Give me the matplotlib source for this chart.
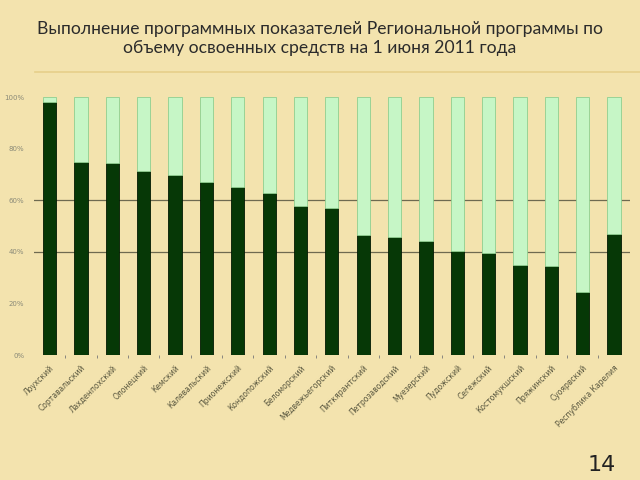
import numpy as np
import matplotlib.pyplot as plt

# Districts and share of funds used (dark part), percent
districts = ['Лоухский', 'Сортавальский', 'Лахденпохский', 'Олонецкий', 'Кемский',
             'Калевальский', 'Прионежский', 'Кондопожский', 'Беломорский',
             'Медвежьегорский', 'Питкярантский', 'Петрозаводский', 'Муезерский',
             'Пудожский', 'Сегежский', 'Костомукшский', 'Пряжинский', 'Суоярвский',
             'Республика Карелия']
done = [98, 74.8, 74.4, 71.3, 69.8, 67, 65, 62.8, 57.8, 57, 46.5, 45.7, 44.2,
        40.3, 39.5, 34.9, 34.5, 24.4, 46.9]
rest = [100 - v for v in done]
yticks = [0, 20, 40, 60, 80, 100]

bg = '#f3e3ae'
fig = plt.figure(figsize=(6.4, 4.8), dpi=100, facecolor=bg)

# title
fig.text(0.5, 0.940, 'Выполнение программных показателей Региональной программы по',
         ha='center', va='center', fontsize=12.6, family='Lato', color='#2b2b2b')
fig.text(0.5, 0.899, 'объему освоенных средств на 1 июня 2011 года',
         ha='center', va='center', fontsize=12.6, family='Lato', color='#2b2b2b')
fig.add_artist(plt.Line2D([0.055, 1.0], [0.85, 0.85], color='#e6cf8a', lw=1.2))
fig.text(0.94, 0.01, '14', ha='center', va='bottom', fontsize=16, color='#222222')

ax = fig.add_axes([0.053, 0.2604, 0.931, 0.5375])
ax.set_facecolor('none')
x = np.arange(len(districts))
ax.bar(x, done, width=0.42, color='#063806', edgecolor='#021a02', lw=0.6, zorder=3)
ax.bar(x, rest, bottom=done, width=0.42, color='#c6f6c6', edgecolor='#8fcf8f', lw=0.6, zorder=3)

for v in [40, 60]:
    ax.axhline(v, color='#6e6a50', lw=0.9, zorder=1, xmin=-0.005)

ax.set_xlim(-0.5, len(districts) - 0.5)
ax.set_ylim(0, 100)
ax.set_yticks(yticks)
ax.set_yticklabels([f'{v}%' for v in yticks], fontsize=5, color='#8a8a78')
ax.tick_params(axis='y', length=0, pad=7)
ax.set_xticks(x)
ax.set_xticklabels(districts, rotation=45, ha='right', rotation_mode='anchor',
                   fontsize=5.5, color='#5a5840')
ax.set_xticks(x[:-1] + 0.5, minor=True)
ax.tick_params(axis='x', which='major', length=0, pad=6)
ax.tick_params(axis='x', which='minor', length=2, color='#777777')
for s in ax.spines.values():
    s.set_visible(False)

plt.savefig('out.png', facecolor=bg)
